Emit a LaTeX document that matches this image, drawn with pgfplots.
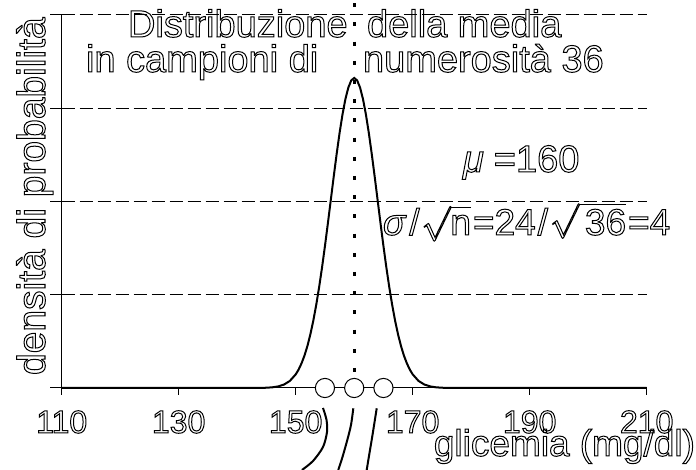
\documentclass[border=0pt]{standalone}
\usepackage{pgfplots}
\pgfplotsset{compat=1.18}
\usepackage{fontspec}
\setmainfont{Liberation Sans}
\newcommand\olon{\special{pdf:literal direct 1 Tr 0.5 w}}
\newcommand\oloff{\special{pdf:literal direct 0 Tr}}
\newcommand\lab{\fontsize{19}{23}\selectfont}
\begin{document}
\begin{tikzpicture}[every node/.append style={inner sep=0pt, outer sep=0pt},
  ol/.style={font=\lab, execute at begin node=\olon, execute at end node=\oloff}]
\begin{axis}[
  scale only axis, width=292.5pt, height=186.5pt,
  xmin=110, xmax=210, ymin=0, ymax=0.12,
  axis x line*=bottom, axis y line*=left,
  axis line style={line width=0.5pt, -},
  xtick={110,130,150,170,190,210}, ytick=\empty,
  major tick length=0pt,
  /pgf/number format/assume math mode=true,
  xticklabel style={font=\fontsize{16}{18}\selectfont, anchor=base, yshift=-22.5pt,
    execute at begin node=\olon, execute at end node=\oloff},
  clip=false,
]
% grid lines
\addplot[black, line width=0.5pt, dash pattern=on 6.5pt off 2.5pt] coordinates {(110,0.03) (210,0.03)};
\addplot[black, line width=0.5pt, dash pattern=on 6.5pt off 2.5pt] coordinates {(110,0.06) (210,0.06)};
\addplot[black, line width=0.5pt, dash pattern=on 6.5pt off 2.5pt] coordinates {(110,0.09) (210,0.09)};
\addplot[black, line width=0.5pt, dash pattern=on 6.5pt off 2.5pt] coordinates {(110,0.12) (210,0.12)};
% ticks
\draw[line width=0.5pt] (axis cs:110,0) -- ([yshift=-3.5pt]axis cs:110,0);
\draw[line width=0.5pt] (axis cs:130,0) -- ([yshift=-3.5pt]axis cs:130,0);
\draw[line width=0.5pt] (axis cs:150,0) -- ([yshift=-3.5pt]axis cs:150,0);
\draw[line width=0.5pt] (axis cs:170,0) -- ([yshift=-3.5pt]axis cs:170,0);
\draw[line width=0.5pt] (axis cs:190,0) -- ([yshift=-3.5pt]axis cs:190,0);
\draw[line width=0.5pt] (axis cs:210,0) -- ([yshift=-3.5pt]axis cs:210,0);
\draw[line width=0.5pt] (axis cs:110,0) -- ([xshift=-5.85pt]axis cs:110,0);
\draw[line width=0.5pt] (axis cs:110,0.03) -- ([xshift=-5.85pt]axis cs:110,0.03);
\draw[line width=0.5pt] (axis cs:110,0.06) -- ([xshift=-5.85pt]axis cs:110,0.06);
\draw[line width=0.5pt] (axis cs:110,0.09) -- ([xshift=-5.85pt]axis cs:110,0.09);
\draw[line width=0.5pt] (axis cs:110,0.12) -- ([xshift=-5.85pt]axis cs:110,0.12);
% dotted vertical line at the mean
\addplot[black, line width=1.5pt, dash pattern=on 2pt off 7.6pt] coordinates {(160,0.1238) (160,0.005)};
% density curve
\addplot[black, line width=1pt] coordinates {
(110,0) (130,0) (140,0.0000004) (142,0.000004) (144,0.0000334) (145,0.0000882)
(146,0.000218) (147,0.000507) (148,0.00111) (149,0.00227) (150,0.00438)
(150.5,0.00594) (151,0.00794) (151.5,0.01043) (152,0.01350) (152.5,0.01720)
(153,0.02157) (153.5,0.02664) (154,0.03238) (154.5,0.03875) (155,0.04566)
(155.5,0.05297) (156,0.06049) (156.5,0.06802) (157,0.07529) (157.5,0.08204)
(158,0.08802) (158.5,0.09297) (159,0.09667) (159.5,0.09897) (160,0.09974)
(160.5,0.09897) (161,0.09667) (161.5,0.09297) (162,0.08802) (162.5,0.08204)
(163,0.07529) (163.5,0.06802) (164,0.06049) (164.5,0.05297) (165,0.04566)
(165.5,0.03875) (166,0.03238) (166.5,0.02664) (167,0.02157) (167.5,0.01720)
(168,0.01350) (168.5,0.01043) (169,0.00794) (169.5,0.00594) (170,0.00438)
(171,0.00227) (172,0.00111) (173,0.000507) (174,0.000218) (175,0.0000882)
(176,0.0000334) (178,0.000004) (180,0.0000004) (190,0) (210,0)};
% lines below the axis
\addplot[black, line width=1pt, smooth] coordinates {
(154.67,-0.00643) (155.27,-0.01029) (155.35,-0.01415) (154.67,-0.01897) (152.96,-0.02348) (151.08,-0.02637)};
\addplot[black, line width=1pt, smooth] coordinates {
(159.85,-0.00653) (159.45,-0.0119) (158.82,-0.01672) (158.0,-0.02219) (157.28,-0.02637)};
\addplot[black, line width=1pt, smooth] coordinates {
(163.85,-0.00653) (163.4,-0.0119) (162.99,-0.01672) (162.5,-0.02219) (162.14,-0.02637)};
% sample means
\addplot[only marks, mark=*, mark size=4.8pt, mark options={fill=white, draw=black, line width=0.5pt}]
coordinates {(155,0) (160,0) (165,0)};
\end{axis}
\node[ol, anchor=base west] at (33.15pt,175.5pt) {Distribuzione};
\node[ol, anchor=base west] at (152.65pt,175.5pt) {della media};
\node[ol, anchor=base west] at (12.15pt,158pt) {in campioni di};
\node[ol, anchor=base west] at (150.65pt,158pt) {numerosità 36};
\node[ol, anchor=base west] at (200.65pt,108pt) {{\itshape μ}\hspace{5pt}=160};
\node[ol, anchor=base west, font=\fontsize{18.5}{22}\selectfont] at (160.65pt,76.5pt) {{\itshape σ}\hspace{2pt}/\hspace{1pt}$\sqrt{\hbox{n}}$\hspace{1pt}=24\hspace{1pt}/\hspace{1pt}$\sqrt{\hbox{\,36}}$\hspace{1pt}=4};
\node[ol, anchor=base east, font=\fontsize{18.5}{22}\selectfont] at (316.65pt,-34pt) {glicemia (mg/dl)};
\node[ol, anchor=base west, rotate=90, font=\fontsize{19.5}{23}\selectfont] at (-8.35pt,6.5pt) {densità di probabilità};
\pgfresetboundingbox
\path[use as bounding box] (-30.85pt,-41pt) rectangle (317.15pt,194pt);
\end{tikzpicture}
\end{document}
